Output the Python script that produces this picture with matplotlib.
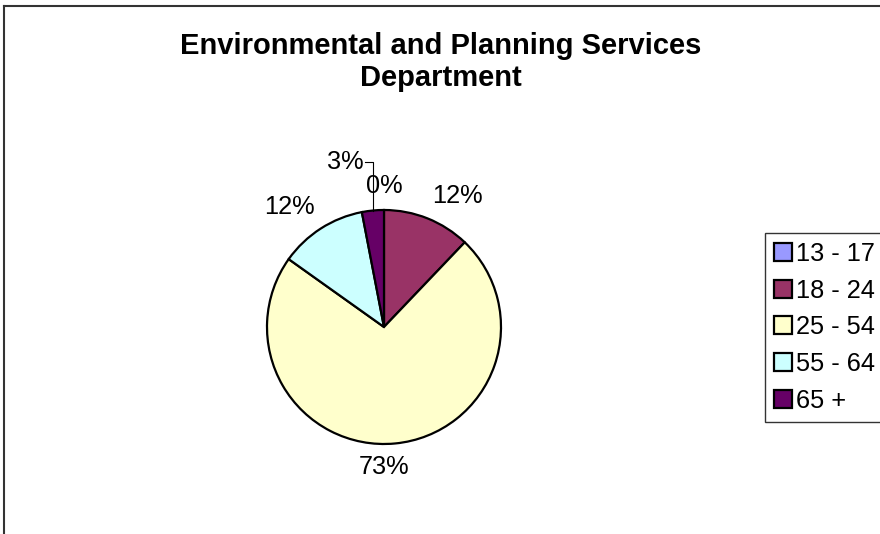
import numpy as np
import matplotlib.pyplot as plt
from matplotlib.lines import Line2D

plt.rcParams['font.family'] = ['Liberation Sans', 'DejaVu Sans']

# Данные
groups = ["13 - 17", "18 - 24", "25 - 54", "55 - 64", "65 +"]
counts = [0, 4, 24, 4, 1]
colors = ["#9999FF", "#993366", "#FFFFCC", "#CCFFFF", "#660066"]
title = "Environmental and Planning Services\nDepartment"

W, H = 880, 534
cx, cy, R = 384, 327, 117  # центр и радиус круга (пиксели)

fig = plt.figure(figsize=(W / 100, H / 100), dpi=100)
ax = fig.add_axes([0, 0, 1, 1])
wedges, _ = ax.pie(counts, colors=colors, startangle=90, counterclock=False,
                   wedgeprops=dict(edgecolor="black", linewidth=1.6))
ax.set_xlim(-cx / R, (W - cx) / R)
ax.set_ylim(-(H - cy) / R, cy / R)
ax.axis("off")

total = sum(counts)
fs = 18.3
for w, c in zip(wedges, counts):
    pct = "%d%%" % round(100 * c / total)
    mid = np.deg2rad((w.theta1 + w.theta2) / 2)
    x, y = np.cos(mid), np.sin(mid)
    if c / total < 0.05 and c > 0:
        # выноска для маленького сектора
        ytop = 1.41
        ax.plot([x, x, x - 0.07], [y, ytop, ytop], color="black", lw=0.8)
        ax.text(x - 0.08, ytop, pct, ha="right", va="center", fontsize=fs)
        continue
    lx, ly = 1.1 * x, 1.1 * y
    if abs(x) < 0.15:
        ha = "center"
    else:
        ha = "left" if x > 0 else "right"
    va = "bottom" if y > 0 else "top"
    if y < -0.99:
        lx = 0
    ax.text(lx, ly, pct, ha=ha, va=va, fontsize=fs)

fig.text(441 / W, 1 - 62 / H, title, ha="center", va="center",
         fontsize=21, fontweight="bold", linespacing=1.2)

leg = fig.legend(wedges, groups, loc="upper left",
                 bbox_to_anchor=(765 / W, 1 - 233 / H), borderaxespad=0,
                 fontsize=fs, frameon=True, fancybox=False,
                 handlelength=0.72, handleheight=0.72, handletextpad=0.15,
                 labelspacing=0.5, borderpad=0.35)
leg.get_frame().set_edgecolor("black")
leg.get_frame().set_linewidth(1.0)

# рамка области диаграммы
fig.add_artist(Line2D([4 / W, 1], [1 - 6 / H, 1 - 6 / H], color="#333333", lw=1.5))
fig.add_artist(Line2D([4 / W, 4 / W], [0, 1 - 6 / H], color="#333333", lw=1.5))

plt.savefig("out.png", dpi=100)
